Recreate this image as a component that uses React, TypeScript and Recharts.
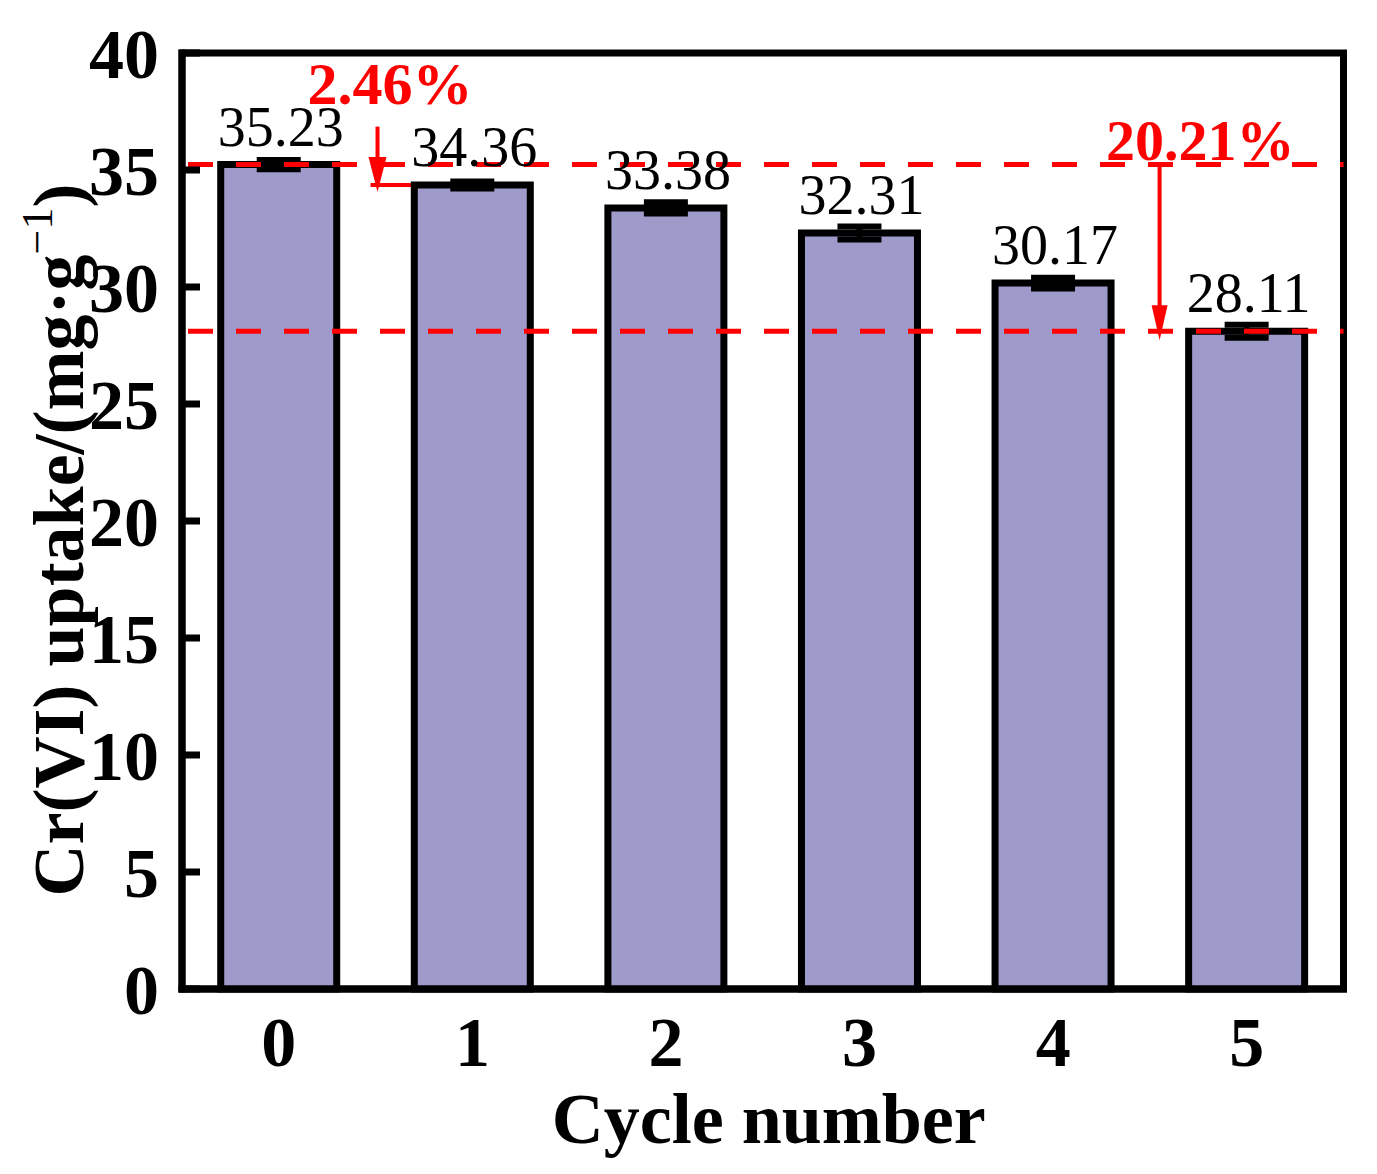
import React from "react";
import {
  Bar,
  BarChart,
  Customized,
  ErrorBar,
  LabelList,
  ReferenceLine,
  XAxis,
  YAxis,
} from "recharts";

const cycles = ["0", "1", "2", "3", "4", "5"];
const uptake = [35.23, 34.36, 33.38, 32.31, 30.17, 28.11];
const uptakeErr = [0.2, 0.15, 0.24, 0.28, 0.23, 0.28];
const yTicks = [0, 5, 10, 15, 20, 25, 30, 35, 40];
const refLevels = [35.23, 28.11];
const drops = [
  { label: "2.46%", from: 35.23, to: 34.36 },
  { label: "20.21%", from: 35.23, to: 28.11 },
];

const data = cycles.map((c, i) => ({ cycle: c, value: uptake[i], err: uptakeErr[i] }));

const W = 1377;
const H = 1174;
const PLOT = { left: 182, right: 1343.5, top: 53, bottom: 989 };
const Y_MAX = 40;
const FONT = '"Liberation Serif", "Times New Roman", serif';
const RED = "#ff0000";

const band = (PLOT.right - PLOT.left) / cycles.length;
const xAt = (c: number) => PLOT.left + (c + 0.5) * band;
const yPx = (v: number) => PLOT.bottom - (v / Y_MAX) * (PLOT.bottom - PLOT.top);

const ValueLabel = (props: any) => {
  const { x, y, width, value } = props;
  return (
    <text
      x={Number(x) + Number(width) / 2 + 2}
      y={Number(y) - 19}
      textAnchor="middle"
      fontFamily={FONT}
      fontSize={56}
      fill="#000"
    >
      {Number(value).toFixed(2)}
    </text>
  );
};

const Arrow = ({ x, y1, y2, head }: { x: number; y1: number; y2: number; head: number }) => (
  <g>
    <line x1={x} x2={x} y1={y1} y2={y2 - 30} stroke={RED} strokeWidth={4} />
    <polygon points={`${x},${y2} ${x - head / 2},${y2 - 35} ${x + head / 2},${y2 - 35}`} fill={RED} />
  </g>
);

// frame on top/right plus the red drop annotations
const Annotations = () => {
  const [small, big] = drops;
  const x1 = xAt(0.51);
  const x2 = xAt(4.55);
  return (
    <g>
      <rect
        x={PLOT.left}
        y={PLOT.top}
        width={PLOT.right - PLOT.left}
        height={PLOT.bottom - PLOT.top}
        fill="none"
        stroke="#000"
        strokeWidth={7}
      />
      <text
        x={xAt(0.574)}
        y={yPx(small.from) - 61}
        textAnchor="middle"
        fontFamily={FONT}
        fontWeight="bold"
        fontSize={60}
        fill={RED}
      >
        {small.label}
      </text>
      <Arrow x={x1} y1={yPx(small.from) - 38} y2={yPx(small.to) + 7} head={18} />
      <line
        x1={x1 - 7}
        x2={xAt(1) - 58}
        y1={yPx(small.to)}
        y2={yPx(small.to)}
        stroke={RED}
        strokeWidth={4}
      />
      <text
        x={xAt(4.76)}
        y={yPx(big.from) - 5}
        textAnchor="middle"
        fontFamily={FONT}
        fontWeight="bold"
        fontSize={58}
        fill={RED}
      >
        {big.label}
      </text>
      <Arrow x={x2} y1={yPx(big.from) + 2} y2={yPx(big.to) + 9} head={16} />
    </g>
  );
};

const YTitle = (props: any) => {
  const { x, y, height } = props.viewBox;
  const cx = x + 11;
  const cy = y + height / 2 + 19;
  return (
    <text
      transform={`translate(${cx},${cy}) rotate(-90)`}
      textAnchor="middle"
      fontFamily={FONT}
      fontWeight="bold"
      fontSize={72}
      fill="#000"
    >
      <tspan>Cr(VI) uptake/(mg·g</tspan>
      <tspan fontSize={44} fontWeight="normal" dy={-31}>
        −1
      </tspan>
      <tspan dy={31}>)</tspan>
    </text>
  );
};

const XTitle = (props: any) => {
  const { x, y, width } = props.viewBox;
  return (
    <text
      x={x + width / 2 + 6}
      y={y + 154}
      textAnchor="middle"
      fontFamily={FONT}
      fontWeight="bold"
      fontSize={72}
      fill="#000"
    >
      Cycle number
    </text>
  );
};

const axisLine = { stroke: "#000", strokeWidth: 7, strokeLinecap: "square" as const };
const tickFont = { fill: "#000", fontSize: 70, fontWeight: "bold", fontFamily: FONT };

export default function App() {
  return (
    <div style={{ position: "absolute", left: 0, top: 0, width: W, height: H, background: "#fff" }}>
      <BarChart
        width={W}
        height={H}
        data={data}
        barCategoryGap="20%"
        margin={{ top: PLOT.top, right: W - PLOT.right, left: PLOT.left - 110, bottom: H - PLOT.bottom - 100 }}
      >
        <XAxis
          dataKey="cycle"
          height={100}
          axisLine={axisLine}
          tickLine={false}
          tickSize={0}
          tickMargin={27}
          tick={tickFont}
          interval={0}
          label={<XTitle />}
        />
        <YAxis
          width={110}
          domain={[0, Y_MAX]}
          ticks={yTicks}
          interval={0}
          axisLine={axisLine}
          tickLine={{ stroke: "#000", strokeWidth: 7 }}
          tickSize={-18}
          tickMargin={41}
          tick={tickFont}
          label={<YTitle />}
        />
        <Bar
          dataKey="value"
          fill="#9e9aca"
          stroke="#000"
          strokeWidth={7}
          isAnimationActive={false}
        >
          <ErrorBar dataKey="err" direction="y" width={22} stroke="#000" strokeWidth={6} />
          <LabelList dataKey="value" content={<ValueLabel />} />
        </Bar>
        {refLevels.map((v) => (
          <ReferenceLine
            key={v}
            y={v}
            stroke={RED}
            strokeWidth={5}
            strokeDasharray="25 23"
            strokeDashoffset={-6}
          />
        ))}
        <Customized component={<Annotations />} />
      </BarChart>
    </div>
  );
}
